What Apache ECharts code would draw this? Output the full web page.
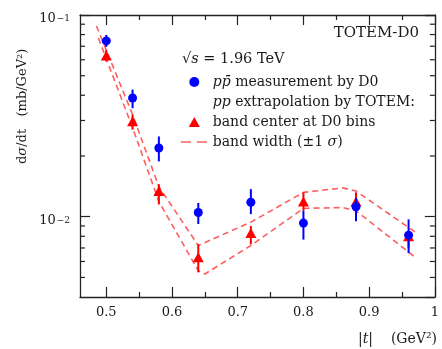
<!DOCTYPE html>
<html>
<head>
<meta charset="utf-8">
<script src="https://cdn.jsdelivr.net/npm/echarts@6/dist/echarts.min.js"></script>
<style>html,body{margin:0;padding:0;background:#fff}#c{width:442px;height:349px}</style>
</head>
<body>
<div id="c"></div>
<script>
// ---- data ----
const tBins   = [0.50, 0.54, 0.58, 0.64, 0.72, 0.80, 0.88, 0.96];
const d0      = [0.0744, 0.0388, 0.0219, 0.0105, 0.0118, 0.0093, 0.0112, 0.0081];
const d0Lo    = [0.0695, 0.0345, 0.0188, 0.0092, 0.0103, 0.0077, 0.0095, 0.0066];
const d0Hi    = [0.0797, 0.0427, 0.0250, 0.0117, 0.0137, 0.0107, 0.0124, 0.0097];
const totem   = [0.0629, 0.0297, 0.0134, 0.0063, 0.0083, 0.0119, 0.0119, 0.0080];
const totemLo = [0.0588, 0.0270, 0.0115, 0.0053, 0.0073, 0.0107, 0.0107, 0.0070];
const totemHi = [0.0671, 0.0321, 0.0145, 0.0073, 0.0090, 0.0132, 0.0132, 0.0085];
const bandUpT = [0.485, 0.54, 0.58, 0.64, 0.72, 0.80, 0.86, 0.88, 0.97];
const bandUp  = [0.0882, 0.0321, 0.0141, 0.0072, 0.0094, 0.0132, 0.0139, 0.0134, 0.0084];
const bandLoT = [0.488, 0.54, 0.58, 0.64, 0.65, 0.72, 0.80, 0.86, 0.88, 0.97];
const bandLo  = [0.0769, 0.0276, 0.0119, 0.0054, 0.0052, 0.0072, 0.0110, 0.0111, 0.0107, 0.0063];
const xMajor  = [0.5, 0.6, 0.7, 0.8, 0.9, 1.0];
const xMinor  = [0.55, 0.65, 0.75, 0.85, 0.95];
const yMinor  = [0.005, 0.006, 0.007, 0.008, 0.009, 0.02, 0.03, 0.04, 0.05, 0.06, 0.07, 0.08, 0.09];
const xRange  = [0.46, 1.0];
const yRange  = [0.004, 0.1];
const names = {d0: 'd0', hdr: 'hdr', ctr: 'ctr', band: 'band'};
const legendText = {
  d0: '{i|pp\u0304} measurement by D0',
  hdr: '{i|pp} extrapolation by TOTEM:',
  ctr: 'band center at D0 bins',
  band: 'band width (\u00b11 {i|\u03c3})'
};

// ---- style ----
const FONT = 'DejaVu Serif';
const TXT = '#1a1a1a';
const AX = '#222';
const BLUE = '#0000ff';
const RED = '#ff0000';
const BAND = 'rgba(255,40,40,0.75)';
const LFS = 14;

const chart = echarts.init(document.getElementById('c'), null, {renderer: 'canvas'});

function errRender(color) {
  return function (params, api) {
    const p1 = api.coord([api.value(0), api.value(1)]);
    const p2 = api.coord([api.value(0), api.value(2)]);
    return {type: 'line', shape: {x1: p1[0], y1: p1[1], x2: p2[0], y2: p2[1]},
      style: {stroke: color, lineWidth: 2}};
  };
}

function xAx(pos, ticks, len, showLine, labels) {
  return {
    type: 'value', position: pos, min: xRange[0], max: xRange[1],
    axisLine: {show: showLine, onZero: false, lineStyle: {color: AX, width: 1.3}},
    axisTick: {show: true, inside: true, length: len, customValues: ticks, lineStyle: {color: AX, width: 1.2}},
    axisLabel: labels ? {show: true, customValues: ticks, margin: 9, color: TXT, fontFamily: FONT, fontSize: 13,
      formatter: v => (Math.abs(v - 1) < 1e-9 ? '1' : v.toFixed(1))} : {show: false},
    splitLine: {show: false}
  };
}
function yAx(pos, labels) {
  return {
    type: 'log', logBase: 10, position: pos, min: yRange[0], max: yRange[1],
    axisLine: {show: true, onZero: false, lineStyle: {color: AX, width: 1.3}},
    axisTick: {show: true, inside: true, length: 10, lineStyle: {color: AX, width: 1.2}},
    axisLabel: labels ? {
      show: true, showMinLabel: false, margin: 10, color: TXT, fontFamily: FONT,
      formatter: v => {
        const e = Math.round(Math.log10(v));
        if (Math.abs(Math.pow(10, e) - v) > 1e-9) return '';
        return '{b|10}{s|\u2212' + (-e) + '}';
      },
      rich: {
        b: {fontSize: 13, fontFamily: FONT, color: TXT, lineHeight: 14, padding: [7, 0, 0, 0]},
        s: {fontSize: 9, fontFamily: FONT, color: TXT, lineHeight: 9, padding: [6, 0, 0, 1], verticalAlign: 'top'}
      }
    } : {show: false},
    splitLine: {show: false}, minorTick: {show: false}
  };
}

const option = {
  animation: false,
  backgroundColor: '#fff',
  grid: {left: 80, right: 5, top: 15, bottom: 52, containLabel: false},
  xAxis: [
    xAx('bottom', xMajor, 10, true, true),
    xAx('bottom', xMinor, 5, false, false),
    xAx('top', xMajor, 10, true, false),
    xAx('top', xMinor, 5, false, false)
  ],
  yAxis: [yAx('left', true), yAx('right', false)],
  legend: {
    show: true, orient: 'vertical', left: 180, top: 72, padding: 0,
    itemWidth: 27, itemHeight: 10, itemGap: 0, selectedMode: false,
    data: [
      names.d0,
      {name: names.hdr, icon: 'rect', itemStyle: {opacity: 0}},
      {name: names.ctr, icon: 'path://M5,0L10,9L0,9Z'},
      {name: names.band, itemStyle: {opacity: 0}, lineStyle: {type: [10, 6], width: 1.6}}
    ],
    formatter: n => legendText[n],
    textStyle: {
      fontFamily: FONT, fontSize: LFS, color: TXT, lineHeight: 20,
      rich: {i: {fontFamily: FONT, fontSize: LFS, fontStyle: 'italic', color: TXT}}
    }
  },
  graphic: [
    {type: 'text', right: 23, top: 26, style: {text: 'TOTEM-D0', fontFamily: FONT, fontSize: 15, fill: TXT}},
    {type: 'text', left: 182, top: 52, style: {
      text: '\u221a{i|s} = 1.96 TeV', fontFamily: FONT, fontSize: 14.5, fill: TXT,
      rich: {i: {fontFamily: FONT, fontSize: 14.5, fontStyle: 'italic', fill: TXT}}}},
    {type: 'text', right: 5, top: 332, style: {
      text: '|{i|t}|    (GeV\u00b2)', fontFamily: FONT, fontSize: 14, fill: TXT,
      rich: {i: {fontFamily: FONT, fontSize: 14, fontStyle: 'italic', fill: TXT}}}},
    {type: 'text', x: 23, y: 164, rotation: Math.PI / 2, style: {
      text: 'd{i|\u03c3}/dt   (mb/GeV\u00b2)', fontFamily: FONT, fontSize: 13, fill: TXT,
      textAlign: 'left', textVerticalAlign: 'middle',
      rich: {i: {fontFamily: FONT, fontSize: 13, fontStyle: 'italic', fill: TXT}}}}
  ],
  series: [
    {name: names.band, type: 'line', data: bandUpT.map((t, i) => [t, bandUp[i]]), symbol: 'none',
      lineStyle: {color: BAND, width: 1.6, type: [6, 4]}, itemStyle: {color: BAND}, z: 2},
    {name: names.band, type: 'line', data: bandLoT.map((t, i) => [t, bandLo[i]]), symbol: 'none',
      lineStyle: {color: BAND, width: 1.6, type: [6, 4]}, itemStyle: {color: BAND}, z: 2},
    {name: 'totemErr', type: 'custom', renderItem: errRender(RED), encode: {x: 0, y: [1, 2]},
      data: tBins.map((t, i) => [t, totemLo[i], totemHi[i]]), z: 3, silent: true},
    {name: names.ctr, type: 'scatter', symbol: 'triangle', symbolSize: [11, 10],
      itemStyle: {color: RED, opacity: 1}, data: tBins.map((t, i) => [t, totem[i]]), z: 4},
    {name: 'd0Err', type: 'custom', renderItem: errRender(BLUE), encode: {x: 0, y: [1, 2]},
      data: tBins.map((t, i) => [t, d0Lo[i], d0Hi[i]]), z: 5, silent: true},
    {name: names.d0, type: 'scatter', symbol: 'circle', symbolSize: 9,
      itemStyle: {color: BLUE, opacity: 1}, data: tBins.map((t, i) => [t, d0[i]]), z: 6},
    {name: names.hdr, type: 'scatter', data: [], itemStyle: {opacity: 0}},
    {name: 'yMinorTicks', type: 'custom', silent: true, encode: {x: 0, y: 1},
      data: yMinor.map(v => [xRange[0], v]), z: 10,
      renderItem: (params, api) => {
        const cs = params.coordSys;
        const y = api.coord([api.value(0), api.value(1)])[1];
        return {type: 'group', children: [
          {type: 'line', shape: {x1: cs.x, y1: y, x2: cs.x + 5, y2: y}, style: {stroke: AX, lineWidth: 1.2}},
          {type: 'line', shape: {x1: cs.x + cs.width - 5, y1: y, x2: cs.x + cs.width, y2: y}, style: {stroke: AX, lineWidth: 1.2}}
        ]};
      }}
  ]
};
chart.setOption(option);
</script>
</body>
</html>
